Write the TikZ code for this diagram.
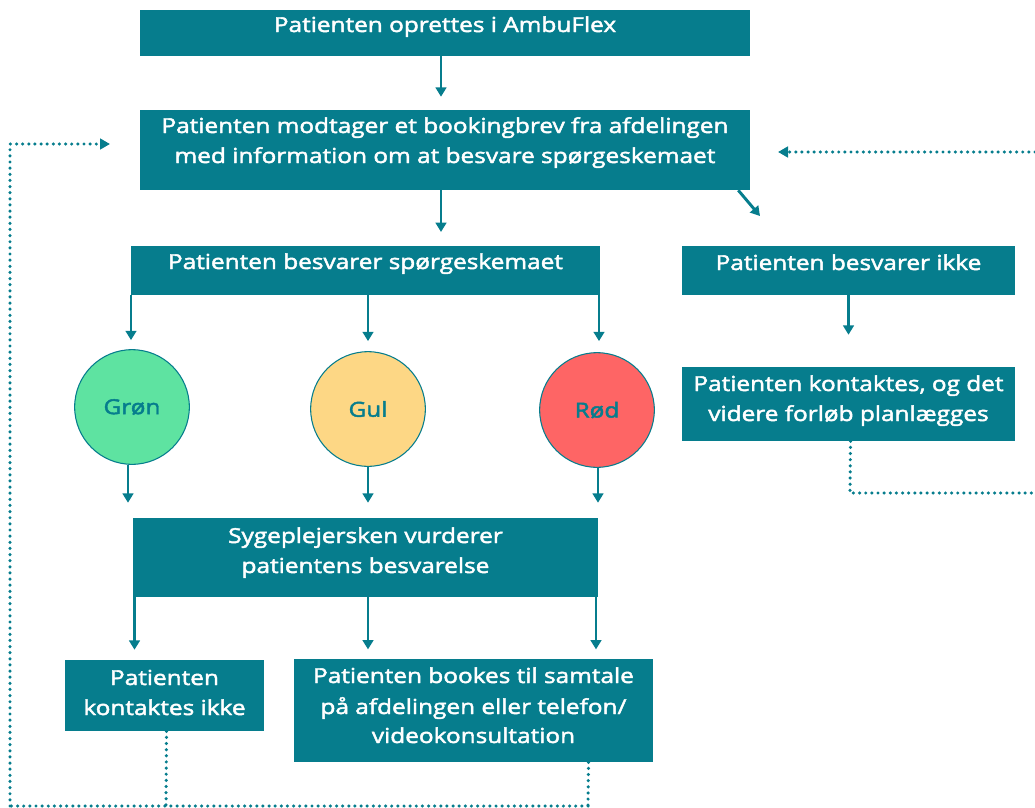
\documentclass[tikz,border=0pt]{standalone}
\usepackage{fontspec}
\setmainfont{Open Sans}
\newfontfamily\semib{Open Sans}[FakeBold=2.2, FakeStretch=1.18]
\usetikzlibrary{arrows.meta}
\definecolor{teal1}{RGB}{6,125,141}
\definecolor{grn}{RGB}{94,227,161}
\definecolor{ylw}{RGB}{253,215,133}
\definecolor{rd}{RGB}{254,101,101}
\tikzset{
  box/.style={fill=teal1, draw=none, inner sep=0pt},
  txt/.style={text=white, anchor=base, font=\semib\fontsize{15.5}{22.5}\selectfont, inner sep=0pt},
  circ/.style={circle, draw=teal1, line width=0.8pt, minimum size=86pt, inner sep=0pt, text=teal1, font=\semib\fontsize{15.5}{17}\selectfont},
  arr/.style={draw=teal1, line width=2.2pt, -{Triangle[width=8pt,length=7pt]}},
  dotline/.style={draw=teal1, line width=2.6pt, line cap=round, dash pattern=on 0pt off 4.6pt},
  dotarr/.style={dotline, -{Triangle[width=8pt,length=7.5pt]}},
}
\begin{document}
\begin{tikzpicture}[x=0.75pt,y=-0.75pt]
\useasboundingbox (0,0) rectangle (1035,807);
% boxes
\node[box, minimum width=457.5pt, minimum height=34.5pt] (b1) at (445,33) {};
\node[box, minimum width=457.5pt, minimum height=60pt] (b2) at (445,150) {};
\node[box, minimum width=351.75pt, minimum height=36.75pt] (b3) at (365.5,270.5) {};
\node[box, minimum width=249.75pt, minimum height=36.75pt] (b4) at (848.5,270.5) {};
\node[box, minimum width=249.75pt, minimum height=55.5pt] (b5) at (848.5,404) {};
\node[box, minimum width=348.75pt, minimum height=59.25pt] (b7) at (365.5,557.5) {};
\node[box, minimum width=149.25pt, minimum height=53.25pt] (b8) at (164.5,695.5) {};
\node[box, minimum width=269.25pt, minimum height=77.25pt] (b9) at (473.5,710.5) {};
% texts
\node[txt] (t1) at (445,32) {Patienten oprettes i AmbuFlex};
\node[txt] (t2a) at (445,133) {Patienten modtager et bookingbrev fra afdelingen};
\node[txt] (t2b) at (445,163) {med information om at besvare spørgeskemaet};
\node[txt] (t3) at (365.5,269) {Patienten besvarer spørgeskemaet};
\node[txt] (t4) at (848.5,270) {Patienten besvarer ikke};
\node[txt] (t5a) at (848.5,391) {Patienten kontaktes, og det};
\node[txt] (t5b) at (848.5,421) {videre forløb planlægges};
\node[txt] (t7a) at (365.5,543) {Sygeplejersken vurderer};
\node[txt] (t7b) at (365.5,573) {patientens besvarelse};
\node[txt] (t8a) at (164.5,685) {Patienten};
\node[txt] (t8b) at (164.5,715) {kontaktes ikke};
\node[txt] (t9a) at (473.5,683) {Patienten bookes til samtale};
\node[txt] (t9b) at (473.5,714) {på afdelingen eller telefon/};
\node[txt] (t9c) at (473.5,743) {videokonsultation};
% circles
\node[circ, fill=grn] (g) at (132,407) {Grøn};
\node[circ, fill=ylw] (y) at (368,409) {Gul};
\node[circ, fill=rd] (r) at (597,410) {Rød};
% solid arrows
\draw[arr, shorten >=9.75pt] ([xshift=-3pt]b1.south) -- ([xshift=-3pt]b2.north);
\coordinate (a2e) at (441,232);
\draw[arr] ([xshift=-3pt]b2.south) -- (a2e);
\coordinate (diage) at (760,216);
\draw[arr] ([xshift=-9pt]b2.south east) -- (diage);
\draw[arr, shorten >=6.75pt] ([xshift=-0.75pt]g.north |- b3.south) -- ([xshift=-0.75pt]g.north);
\draw[arr, shorten >=7.5pt] (y.north |- b3.south) -- (y.north);
\draw[arr, shorten >=8.25pt] ([xshift=1.5pt]r.north |- b3.south) -- ([xshift=1.5pt]r.north);
\draw[arr, shorten >=24pt] (b4.south) -- (b5.north);
\draw[arr, shorten >=11.25pt] ([xshift=-3pt]g.south) -- ([xshift=-3pt]g.south |- b7.north);
\draw[arr, shorten >=11.25pt] (y.south) -- (y.south |- b7.north);
\draw[arr, shorten >=11.25pt] ([xshift=0.75pt]r.south) -- ([xshift=0.75pt]r.south |- b7.north);
\draw[arr, shorten >=7.5pt] ([xshift=-22.5pt]b8.north |- b7.south) -- ([xshift=-22.5pt]b8.north);
\draw[arr, shorten >=7pt] (y.south |- b7.south) -- (y.south |- b9.north);
\draw[arr, shorten >=7pt] ([xshift=-0.75pt]r.south |- b7.south) -- ([xshift=-0.75pt]r.south |- b9.north);
% dotted loops
\coordinate (lb) at (10,806);
\coordinate (lt) at (10,144);
\coordinate (la) at (110,144);
\coordinate (k8) at (166,806);
\coordinate (k9) at (588,806);
\draw[dotline] ([xshift=1.5pt]b8.south) -- (k8);
\draw[dotline] ([xshift=86.25pt]b9.south) -- (k9);
\draw[dotline] (k9) -- (lb);
\draw[dotarr] (lb) -- (lt) -- (la);
\coordinate (rs) at (1035,152);
\coordinate (ra) at (778,152);
\draw[dotarr] (rs) -- (ra);
\coordinate (r5) at (850,493);
\coordinate (r6) at (1035,493);
\draw[dotline] ([xshift=1.5pt]b5.south) -- (r5) -- (r6);
\end{tikzpicture}
\end{document}
